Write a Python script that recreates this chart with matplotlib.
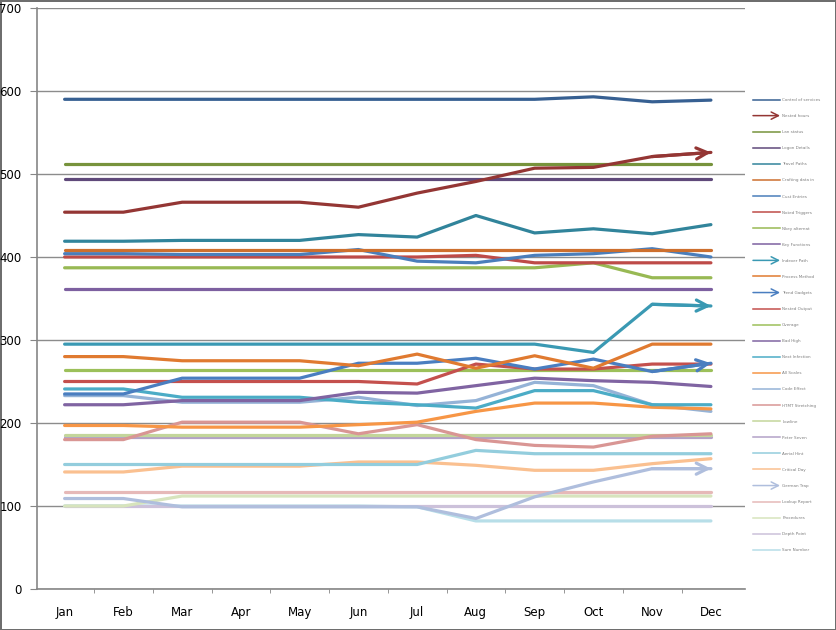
import numpy as np
import matplotlib.pyplot as plt
from matplotlib.lines import Line2D
from matplotlib.patches import FancyArrowPatch
from matplotlib.legend_handler import HandlerBase

# months on the category axis
months = ["Jan", "Feb", "Mar", "Apr", "May", "Jun",
          "Jul", "Aug", "Sep", "Oct", "Nov", "Dec"]

# legend names (too small to read in the reference, best guess)
names = ["Control of services", "Nested hours", "Lan status", "Logon Details",
         "Travel Paths", "Crafting data in", "Cust Entries", "Noted Triggers",
         "Nkey alternat", "Key Functions", "Indexer Path", "Process Method",
         "Trend Gadgets", "Nested Output", "Overage", "Bad High",
         "Next Infection", "All Scales", "Code Effect", "HTMT Stretching",
         "Lowline", "Peter Seven", "Aerial Hint", "Critical Day",
         "German Trap", "Lookup Report", "Procedures", "Depth Point",
         "Sum Number"]

s01 = [590, 590, 590, 590, 590, 590, 590, 590, 590, 593, 587, 589]
s02 = [454, 454, 466, 466, 466, 460, 477, 491, 507, 508, 521, 526]
s03 = [512] * 12
s04 = [494] * 12
s05 = [419, 419, 420, 420, 420, 427, 424, 450, 429, 434, 428, 439]
s06 = [409] * 12
s07 = [404, 404, 403, 403, 403, 409, 395, 393, 402, 404, 410, 400]
s08 = [400, 400, 400, 400, 400, 400, 400, 402, 393, 393, 393, 393]
s09 = [387, 387, 387, 387, 387, 387, 387, 387, 387, 393, 375, 375]
s10 = [362] * 12
s11 = [295, 295, 295, 295, 295, 295, 295, 295, 295, 285, 343, 341]
s12 = [280, 280, 275, 275, 275, 269, 283, 266, 281, 266, 295, 295]
s13 = [235, 235, 254, 254, 254, 272, 272, 278, 265, 277, 262, 272]
s14 = [250, 250, 250, 250, 250, 250, 247, 271, 265, 265, 271, 271]
s15 = [264] * 12
s16 = [222, 222, 227, 227, 227, 237, 236, 245, 254, 251, 249, 244]
s17 = [241, 241, 231, 231, 231, 225, 222, 218, 239, 239, 222, 222]
s18 = [197, 197, 195, 195, 195, 198, 201, 214, 224, 224, 219, 217]
s19 = [233, 233, 225, 225, 225, 231, 221, 227, 249, 245, 222, 214]
s20 = [180, 180, 201, 201, 201, 187, 198, 180, 173, 171, 184, 187]
s21 = [186] * 12
s22 = [183] * 12
s23 = [150, 150, 150, 150, 150, 150, 150, 167, 163, 163, 163, 163]
s24 = [141, 141, 148, 148, 148, 153, 153, 149, 143, 143, 151, 157]
s25 = [109, 109, 99, 99, 99, 99, 99, 85, 111, 129, 145, 145]
s26 = [117] * 12
s27 = [100, 100, 112, 112, 112, 112, 112, 112, 112, 112, 112, 112]
s28 = [100] * 12
s29 = [100, 100, 100, 100, 100, 100, 99, 82, 82, 82, 82, 82]

series = [s01, s02, s03, s04, s05, s06, s07, s08, s09, s10,
          s11, s12, s13, s14, s15, s16, s17, s18, s19, s20,
          s21, s22, s23, s24, s25, s26, s27, s28, s29]

colors = ["#376092", "#943634", "#77933C", "#5F497A", "#31849B", "#CD6F2E",
          "#4A7EBB", "#BE4B48", "#98B954", "#7D60A0", "#3A99B3", "#E07A30",
          "#4A7EC0", "#C4504D", "#9CC05A", "#8064A2", "#4BACC6", "#F79646",
          "#95B3D7", "#D99694", "#C3D69B", "#B3A2C7", "#93CDDD", "#FAC090",
          "#AFBEDD", "#E6B9B8", "#D7E4BD", "#CCC1DA", "#B7DEE8"]

# series whose line ends in an open arrow head
arrows = {1, 10, 12, 24}


class ArrowHandler(HandlerBase):
    def create_artists(self, legend, orig_handle, xdescent, ydescent,
                       width, height, fontsize, trans):
        y = height / 2 - ydescent
        a = FancyArrowPatch((-xdescent, y), (width - xdescent, y),
                            arrowstyle="->", mutation_scale=13,
                            color=orig_handle.get_color(),
                            lw=orig_handle.get_linewidth(),
                            shrinkA=0, shrinkB=0, transform=trans)
        return [a]


fig = plt.figure(figsize=(8.36, 6.3), dpi=100)
fig.patch.set_edgecolor("#6e6e6e")
fig.patch.set_linewidth(2)
ax = fig.add_axes([37 / 836, 41 / 630, 708 / 836, 581 / 630])

x = np.arange(len(months))
handles = []
handler_map = {}
for i, vals in enumerate(series):
    ax.plot(x, vals, color=colors[i], lw=2.3, solid_capstyle="round",
            zorder=3 + (29 - i) * 0.01)
    h = Line2D([0], [0], color=colors[i], lw=1.1)
    if i in arrows:
        ax.annotate("", xy=(x[-1], vals[-1]), xytext=(x[-2], vals[-2]),
                    arrowprops=dict(arrowstyle="->", color=colors[i], lw=2.3,
                                    mutation_scale=20, shrinkA=0, shrinkB=0),
                    zorder=4)
        handler_map[h] = ArrowHandler()
    handles.append(h)

ax.set_xlim(-0.47, 11.58)
ax.set_ylim(0, 700)
ax.set_yticks(range(0, 701, 100))
ax.set_xticks(x)
ax.set_xticklabels(months)
ax.set_xticks(np.arange(0.5, 11, 1), minor=True)
ax.tick_params(axis="x", which="major", length=0, pad=12, labelsize=8.5)
ax.tick_params(axis="x", which="minor", length=3, color="#868686")
ax.tick_params(axis="y", length=5, color="#868686", labelsize=8.5, pad=6)
ax.grid(axis="y", color="#8c8c8c", lw=1)
ax.set_axisbelow(True)
for side in ["top", "right"]:
    ax.spines[side].set_visible(False)
for side in ["left", "bottom"]:
    ax.spines[side].set_color("#868686")
    ax.spines[side].set_linewidth(1.2)

leg = fig.legend(handles, names, handler_map=handler_map,
                 loc="upper left", bbox_to_anchor=(753 / 836, 1 - 98 / 630),
                 frameon=False, fontsize=3, labelspacing=2.9,
                 handlelength=6.5, handletextpad=0.5, borderpad=0,
                 borderaxespad=0)
for t in leg.get_texts():
    t.set_color("#7f7f7f")

plt.savefig("out.png", dpi=100, edgecolor=fig.get_edgecolor())
